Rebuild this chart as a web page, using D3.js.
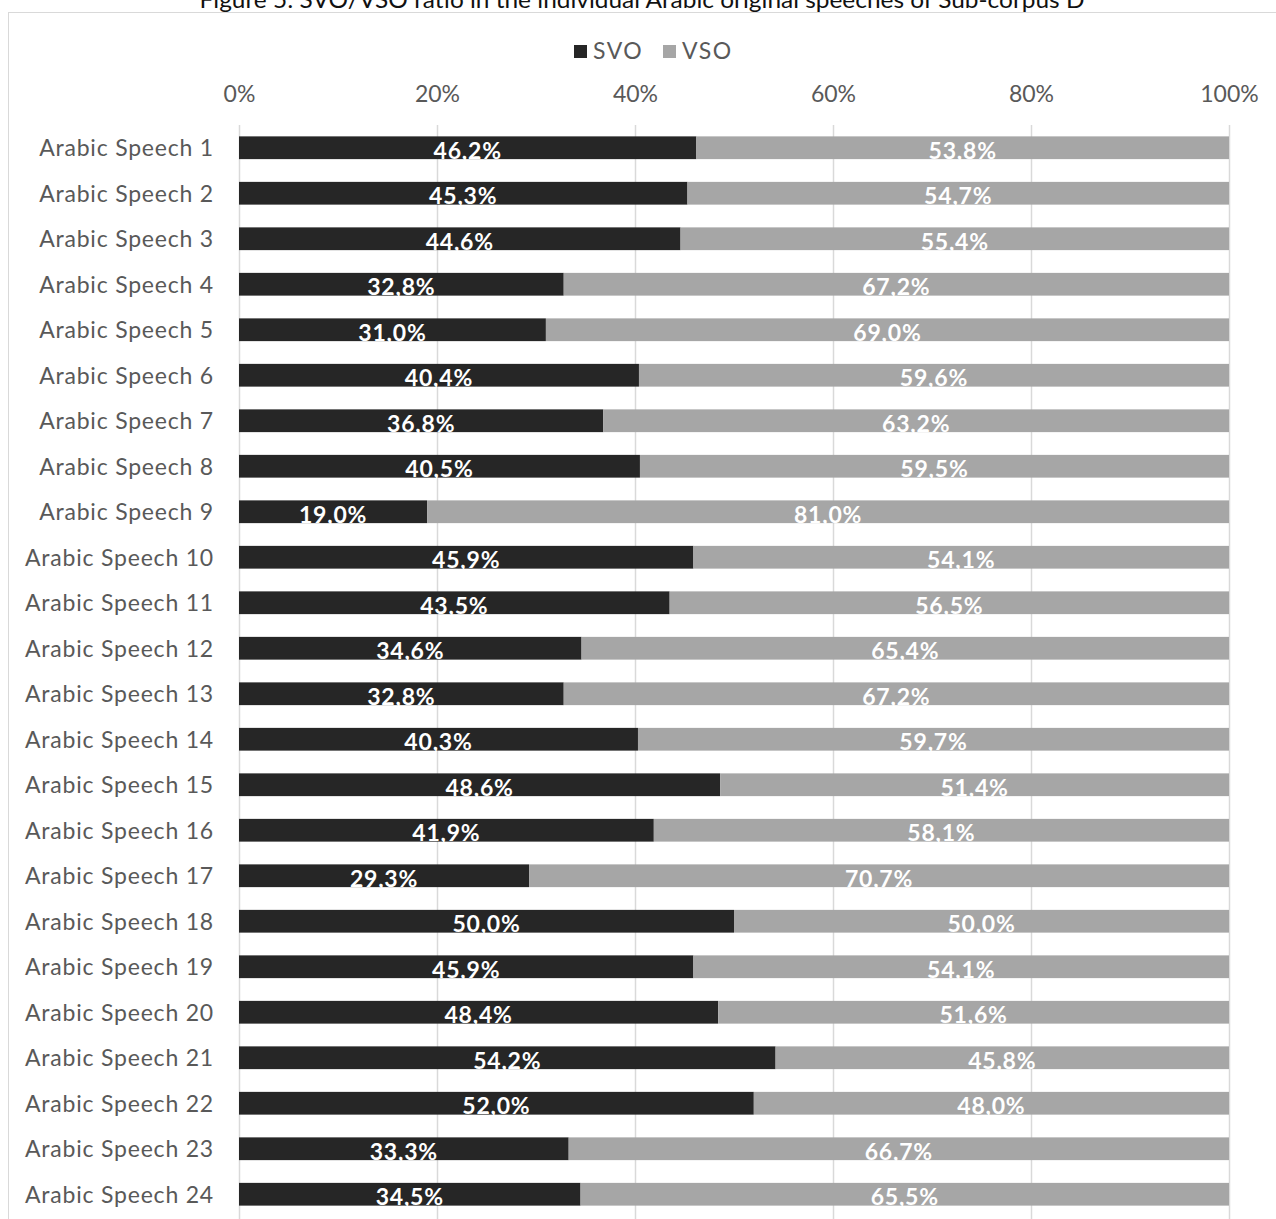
<!DOCTYPE html>
<html>
<head>
<meta charset="utf-8">
<script src="https://cdn.jsdelivr.net/npm/d3@7"></script>
<style>
  html, body { margin: 0; padding: 0; background: #fff; }
  svg { display: block; }
  text { font-family: Lato, "Open Sans", sans-serif; }
</style>
</head>
<body>
<svg id="chart" width="1276" height="1219"></svg>
<script>
// Speeches (top to bottom)
const categories = d3.range(1, 25).map(i => "Arabic Speech " + i);
// Share of SVO and VSO word order per speech (%)
const svoValues = [46.2, 45.3, 44.6, 32.8, 31.0, 40.4, 36.8, 40.5, 19.0, 45.9, 43.5, 34.6,
                   32.8, 40.3, 48.6, 41.9, 29.3, 50.0, 45.9, 48.4, 54.2, 52.0, 33.3, 34.5];
const vsoValues = [53.8, 54.7, 55.4, 67.2, 69.0, 59.6, 63.2, 59.5, 81.0, 54.1, 56.5, 65.4,
                   67.2, 59.7, 51.4, 58.1, 70.7, 50.0, 54.1, 51.6, 45.8, 48.0, 66.7, 65.5];
const seriesNames = ["SVO", "VSO"];
const tickValues = [0, 20, 40, 60, 80, 100];
const tickLabels = ["0%", "20%", "40%", "60%", "80%", "100%"];
const title = "Figure 5: SVO/VSO ratio in the individual Arabic original speeches of Sub-corpus D";

const colors = { SVO: "#262626", VSO: "#a6a6a6" };

const svg = d3.select("#chart");
const W = 1276, H = 1219;

// chart frame
svg.append("rect")
  .attr("x", 8.5).attr("y", 12.5)
  .attr("width", W + 20).attr("height", H + 20)
  .attr("fill", "#fff").attr("stroke", "#d9d9d9").attr("stroke-width", 1);

// title (sits just above the frame)
svg.append("text")
  .attr("x", 642).attr("y", 8)
  .attr("text-anchor", "middle")
  .attr("font-size", 24)
  .attr("fill", "#111")
  .attr("textLength", 885)
  .attr("lengthAdjust", "spacingAndGlyphs")
  .text(title);

// scales
const x = d3.scaleLinear().domain([0, 100]).range([239, 1229]);
const y = d3.scaleBand().domain(categories).range([125, 1217])
  .paddingInner(0.5).paddingOuter(0.25);

// legend
const legendItems = [{ name: "SVO", x: 574 }, { name: "VSO", x: 663 }];
const lg = svg.append("g");
legendItems.forEach(d => {
  lg.append("rect").attr("x", d.x).attr("y", 45).attr("width", 13).attr("height", 13)
    .attr("fill", colors[d.name]);
  lg.append("text").attr("x", d.x + 19).attr("y", 59)
    .attr("font-size", 23).attr("letter-spacing", 1.5)
    .attr("fill", "#595959").text(d.name);
});

// gridlines
svg.append("g")
  .selectAll("line")
  .data(tickValues)
  .join("line")
  .attr("x1", d => x(d) + 0.5).attr("x2", d => x(d) + 0.5)
  .attr("y1", 125).attr("y2", H)
  .attr("stroke", "#d9d9d9").attr("stroke-width", 1.5);

// top axis labels
const xAxis = d3.axisTop(x).tickValues(tickValues)
  .tickFormat((d, i) => tickLabels[i]).tickSize(0).tickPadding(0);
const gx = svg.append("g").attr("transform", "translate(0,102)").call(xAxis);
gx.select(".domain").remove();
gx.selectAll("text").attr("font-size", 23).attr("fill", "#595959")
  .attr("font-family", "Lato, 'Open Sans', sans-serif").attr("dy", 0);

// category labels
const yAxis = d3.axisLeft(y).tickSize(0).tickPadding(0);
const gy = svg.append("g").attr("transform", "translate(214,0)").call(yAxis);
gy.select(".domain").remove();
gy.selectAll("text").attr("font-size", 23).attr("fill", "#595959")
  .attr("font-family", "Lato, 'Open Sans', sans-serif")
  .attr("letter-spacing", 0.8)
  .attr("dy", "0.36em");

// stacked bars
const rows = categories.map((c, i) => ({ cat: c, SVO: svoValues[i], VSO: vsoValues[i] }));
const stacked = d3.stack().keys(seriesNames)(rows);

const fmt = v => d3.format(".1f")(v).replace(".", ",") + "%";

const layers = svg.append("g").selectAll("g")
  .data(stacked)
  .join("g")
  .attr("fill", d => colors[d.key]);

layers.selectAll("rect")
  .data(d => d)
  .join("rect")
  .attr("x", d => x(d[0]))
  .attr("y", d => y(d.data.cat))
  .attr("width", d => x(d[1]) - x(d[0]))
  .attr("height", y.bandwidth());

// value labels
const labels = svg.append("g");
stacked.forEach(layer => {
  labels.selectAll(null)
    .data(layer)
    .join("text")
    .attr("x", d => (x(d[0]) + x(d[1])) / 2)
    .attr("y", d => y(d.data.cat) + y.bandwidth() / 2 + 11)
    .attr("text-anchor", "middle")
    .attr("font-size", 23)
    .attr("font-weight", "bold")
    .attr("letter-spacing", 0.8)
    .attr("fill", "#fff")
    .text(d => fmt(d.data[layer.key]));
});
</script>
</body>
</html>
